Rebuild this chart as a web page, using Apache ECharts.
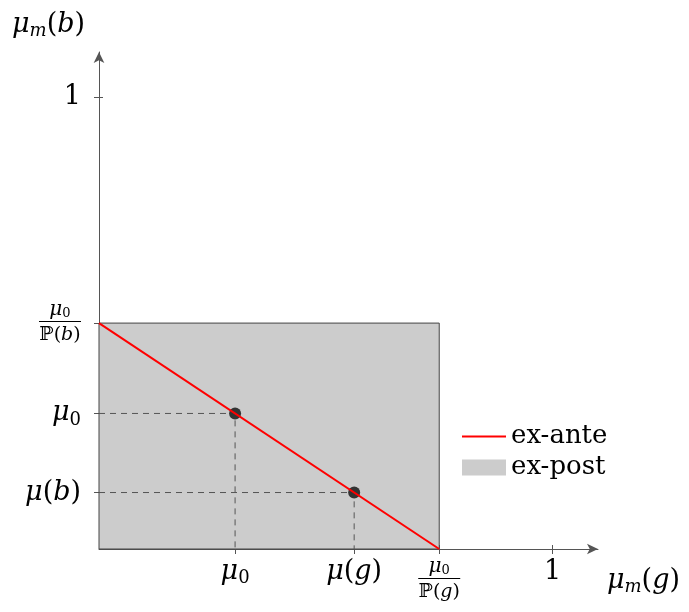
<!DOCTYPE html>
<html>
<head>
<meta charset="utf-8">
<script src="https://cdn.jsdelivr.net/npm/echarts@6/dist/echarts.min.js"></script>
<style>
  html, body { margin: 0; padding: 0; background: #fff; }
  #chart { width: 689px; height: 612px; }
</style>
</head>
<body>
<div id="chart"></div>
<script>
// Belief space: mu_m(g) on x, mu_m(b) on y
const xTickValues = [0.3, 0.5625, 0.75, 1];
const xTickLabels = [
  '{it|μ}{sub|0}',
  '{it|μ}{up|(}{it|g}{up|)}',
  '{fn|μ}{fs|0}\n{bar|}\n{fd|ℙ(}{fdi|g}{fd|)}',
  '{up|1}'
];
const yTickValues = [0.125, 0.3, 0.5, 1];
const yTickLabels = [
  '{it|μ}{up|(}{it|b}{up|)}',
  '{it|μ}{sub|0}',
  '{fn|μ}{fs|0}\n{bar|}\n{fd|ℙ(}{fdi|b}{fd|)}',
  '{up|1}'
];

// ex-ante frontier from mu0/P(b) on the y axis to mu0/P(g) on the x axis
const exAnte = [[0, 0.5], [0.75, 0]];
// ex-post region corner (upper right)
const exPostCorner = [0.75, 0.5];
// posterior beliefs
const posteriors = [[0.3, 0.3], [0.5625, 0.125]];
// dashed guides to the posteriors
const guideA = [[0, 0.3], [0.3, 0.3], [0.3, 0]];
const guideB = [[0, 0.125], [0.5625, 0.125], [0.5625, 0]];

const FONT = 'DejaVu Serif';
const rich = {
  it: { fontFamily: FONT, fontStyle: 'italic', fontSize: 27, color: '#000', lineHeight: 30 },
  up: { fontFamily: FONT, fontSize: 27, color: '#000', lineHeight: 30 },
  sub: { fontFamily: FONT, fontSize: 18, color: '#000', padding: [13, 0, 0, 0], lineHeight: 30 },
  fn: { fontFamily: FONT, fontStyle: 'italic', fontSize: 20, color: '#000', align: 'center', lineHeight: 19 },
  fs: { fontFamily: FONT, fontSize: 13, color: '#000', align: 'center', padding: [8, 0, 0, 0], lineHeight: 19 },
  bar: { width: 42, height: 1, backgroundColor: '#000', align: 'center', lineHeight: 5 },
  fd: { fontFamily: FONT, fontSize: 19, color: '#000', align: 'center', lineHeight: 22 },
  fdi: { fontFamily: FONT, fontStyle: 'italic', fontSize: 19, color: '#000', align: 'center', lineHeight: 22 },
  sm: { fontFamily: FONT, fontStyle: 'italic', fontSize: 18, color: '#000', padding: [12, 0, 0, 0], lineHeight: 30 }
};

const chart = echarts.init(document.getElementById('chart'));
const axisLineStyle = { color: '#555', width: 1 };

// A second, line-less axis on each side draws the inner half of the ticks,
// so every tick crosses its axis line.
const innerTicks = (values) => ({
  type: 'value', min: 0, max: 1.1,
  splitLine: { show: false },
  axisLine: { show: false },
  axisLabel: { show: false },
  axisTick: { customValues: values, inside: true, length: 4, lineStyle: axisLineStyle }
});

chart.setOption({
  animation: false,
  backgroundColor: '#fff',
  grid: { left: 99, right: 91, top: 52, bottom: 63 },
  legend: {
    orient: 'vertical',
    left: 457,
    top: 418,
    itemWidth: 44,
    itemHeight: 16,
    itemGap: 4,
    textStyle: { fontFamily: FONT, fontSize: 26, color: '#000', lineHeight: 27 },
    data: [
      { name: 'ex-ante', icon: 'path://M0,0 L44,0 L44,2 L0,2 Z' },
      { name: 'ex-post', icon: 'rect' }
    ]
  },
  xAxis: [{
    type: 'value', min: 0, max: 1.1,
    splitLine: { show: false },
    axisLine: { symbol: ['none', 'arrow'], symbolSize: [8, 11], lineStyle: axisLineStyle },
    axisTick: { customValues: xTickValues, length: 5, lineStyle: axisLineStyle },
    axisLabel: {
      customValues: xTickValues, margin: 8, verticalAlign: 'top',
      formatter: v => xTickLabels[xTickValues.indexOf(v)], rich: rich
    },
    name: '{it|μ}{sm|m}{up|(}{it|g}{up|)}',
    nameLocation: 'end',
    nameGap: 9,
    nameTextStyle: { rich: rich, verticalAlign: 'top', padding: [17, 0, 0, 0] }
  }, Object.assign(innerTicks(xTickValues), { position: 'bottom' })],
  yAxis: [{
    type: 'value', min: 0, max: 1.1,
    splitLine: { show: false },
    axisLine: { symbol: ['none', 'arrow'], symbolSize: [8, 11], lineStyle: axisLineStyle },
    axisTick: { customValues: yTickValues, length: 5, lineStyle: axisLineStyle },
    axisLabel: {
      customValues: yTickValues, margin: 18,
      formatter: v => yTickLabels[yTickValues.indexOf(v)], rich: rich
    },
    name: '{it|μ}{sm|m}{up|(}{it|b}{up|)}',
    nameLocation: 'end',
    nameGap: 12,
    nameTextStyle: { rich: rich, align: 'right', padding: [0, 14, 0, 0] }
  }, Object.assign(innerTicks(yTickValues), { position: 'left' })],
  series: [
    {
      name: 'ex-post',
      type: 'custom',
      color: '#cccccc',
      z: 1,
      data: [exPostCorner],
      renderItem: (params, api) => {
        const p0 = api.coord([0, 0]);
        const p1 = api.coord([api.value(0), api.value(1)]);
        return {
          type: 'rect',
          shape: { x: p0[0], y: p1[1], width: p1[0] - p0[0], height: p0[1] - p1[1] },
          style: { fill: '#cccccc', stroke: '#444', lineWidth: 1 }
        };
      }
    },
    {
      type: 'line', data: guideA, symbol: 'none', z: 2, silent: true,
      lineStyle: { color: '#555', width: 1, type: [6, 5] }
    },
    {
      type: 'line', data: guideB, symbol: 'none', z: 2, silent: true,
      lineStyle: { color: '#555', width: 1, type: [6, 5] }
    },
    {
      type: 'scatter', data: posteriors, symbolSize: 12, z: 3,
      itemStyle: { color: '#333', opacity: 1 }
    },
    {
      name: 'ex-ante',
      type: 'line', data: exAnte, symbol: 'none', z: 4, color: '#ff0000',
      lineStyle: { color: '#ff0000', width: 2 }
    }
  ]
});
</script>
</body>
</html>
